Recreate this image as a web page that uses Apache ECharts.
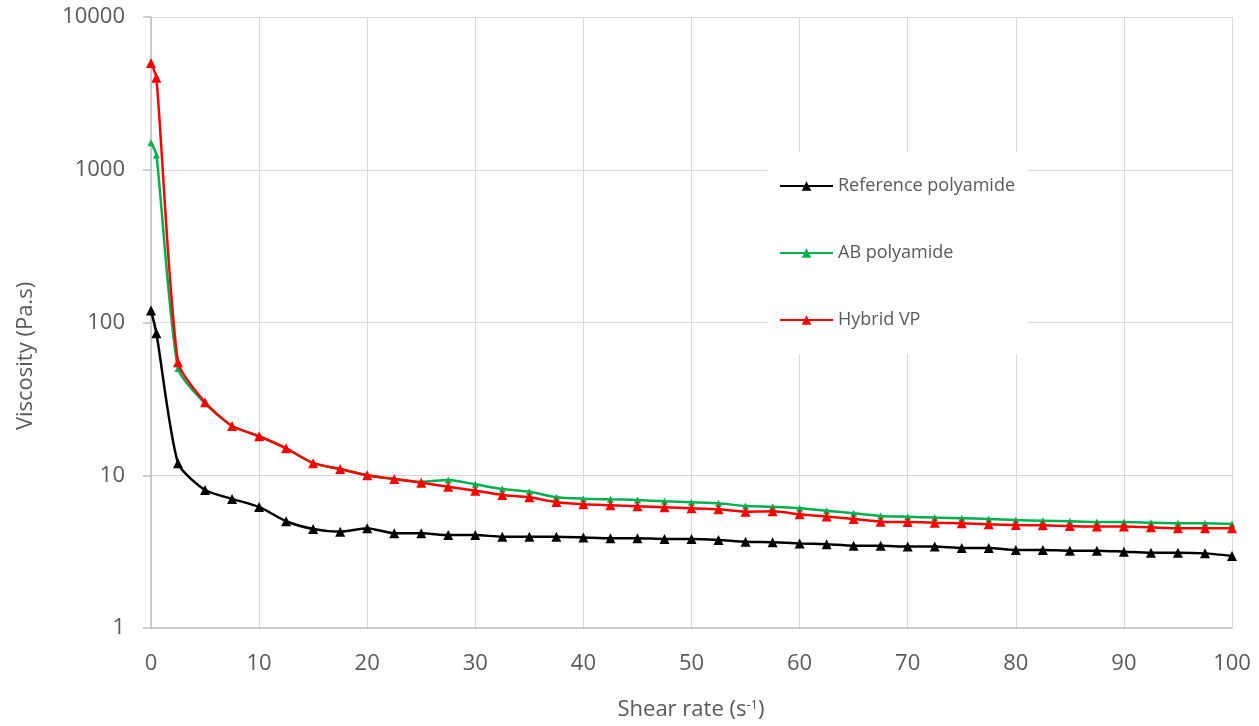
<!DOCTYPE html>
<html>
<head>
<meta charset="utf-8">
<script src="https://cdn.jsdelivr.net/npm/echarts@6/dist/echarts.min.js"></script>
<style>
html,body{margin:0;padding:0;background:#fff;}
#chart{width:1259px;height:726px;}
</style>
</head>
<body>
<div id="chart"></div>
<script>
// Shear rate (s^-1)
const shearRate = [0, 0.5, 2.5, 5, 7.5, 10, 12.5, 15, 17.5, 20, 22.5, 25, 27.5, 30, 32.5, 35, 37.5, 40, 42.5, 45, 47.5, 50, 52.5, 55, 57.5, 60, 62.5, 65, 67.5, 70, 72.5, 75, 77.5, 80, 82.5, 85, 87.5, 90, 92.5, 95, 97.5, 100];
// Viscosity (Pa.s)
const referencePolyamide = [120, 85, 12, 8.0, 7.0, 6.2, 5.0, 4.45, 4.27, 4.5, 4.17, 4.17, 4.06, 4.06, 3.96, 3.96, 3.96, 3.92, 3.87, 3.87, 3.83, 3.83, 3.77, 3.67, 3.64, 3.58, 3.53, 3.46, 3.46, 3.41, 3.41, 3.34, 3.34, 3.24, 3.24, 3.21, 3.21, 3.16, 3.11, 3.11, 3.08, 2.96];
const abPolyamide = [1500, 1250, 50, 29.5, 21, 18, 15, 12, 11, 10, 9.45, 9.07, 9.31, 8.72, 8.13, 7.8, 7.17, 7.02, 6.96, 6.89, 6.75, 6.65, 6.55, 6.29, 6.22, 6.08, 5.86, 5.63, 5.41, 5.35, 5.28, 5.23, 5.17, 5.09, 5.04, 4.99, 4.94, 4.94, 4.89, 4.85, 4.85, 4.8];
const hybridVP = [5000, 4000, 55, 30, 21, 18, 15, 12, 11, 10, 9.45, 8.94, 8.42, 7.92, 7.43, 7.17, 6.68, 6.45, 6.36, 6.26, 6.17, 6.08, 5.98, 5.77, 5.81, 5.55, 5.36, 5.17, 4.97, 4.94, 4.89, 4.85, 4.77, 4.72, 4.70, 4.65, 4.61, 4.61, 4.56, 4.49, 4.49, 4.49];
const seriesNames = ['Reference polyamide', 'AB polyamide', 'Hybrid VP'];
const xTicks = [0, 10, 20, 30, 40, 50, 60, 70, 80, 90, 100];
const yTicks = [1, 10, 100, 1000, 10000];

const FONT = '"Open Sans", "Liberation Sans", sans-serif';
const TXT = '#595959';

function pairs(ys) { return shearRate.map((x, i) => [x, ys[i]]); }

const chart = echarts.init(document.getElementById('chart'), null, {renderer: 'canvas'});
const colors = ['#000000', '#00B050', '#FF0000'];
const values = [referencePolyamide, abPolyamide, hybridVP];
const sizes = [10, 7, 10];

chart.setOption({
  animation: false,
  backgroundColor: '#ffffff',
  grid: {left: 151, right: 27, top: 17, bottom: 98, containLabel: false},
  xAxis: {
    type: 'value',
    min: xTicks[0], max: xTicks[xTicks.length - 1], interval: xTicks[1] - xTicks[0],
    axisLine: {show: true, onZero: false, lineStyle: {color: '#bfbfbf', width: 1.5}},
    axisTick: {show: false},
    splitLine: {show: true, lineStyle: {color: '#d9d9d9', width: 1}},
    axisLabel: {color: TXT, fontSize: 22, fontFamily: FONT, margin: 25}
  },
  yAxis: {
    type: 'log', logBase: 10,
    min: yTicks[0], max: yTicks[yTicks.length - 1],
    axisLine: {show: true, lineStyle: {color: '#bfbfbf', width: 1.5}},
    axisTick: {show: true, length: 8, lineStyle: {color: '#bfbfbf', width: 1.5}},
    splitLine: {show: true, lineStyle: {color: '#d9d9d9', width: 1}},
    minorTick: {show: false},
    axisLabel: {color: TXT, fontSize: 22, fontFamily: FONT, margin: 26, formatter: v => String(v)}
  },
  legend: {
    orient: 'vertical',
    left: 767, top: 152,
    backgroundColor: '#ffffff',
    padding: [24, 13, 24, 12],
    itemWidth: 53, itemHeight: 12, itemGap: 47,
    textStyle: {color: TXT, fontSize: 18, fontFamily: FONT, lineHeight: 20},
    data: seriesNames
  },
  graphic: [
    {
      type: 'text', x: 26, y: 356, rotation: Math.PI / 2,
      style: {text: 'Viscosity (Pa.s)', fill: TXT, font: '22px ' + FONT, textAlign: 'center', textVerticalAlign: 'middle'}
    },
    {
      type: 'text', x: 691, y: 710,
      style: {
        text: '{a|Shear rate (s}{s|-1}{a|)}',
        textAlign: 'center', textVerticalAlign: 'middle',
        rich: {
          a: {fill: TXT, fontSize: 22, fontFamily: FONT},
          s: {fill: TXT, fontSize: 13, fontFamily: FONT, verticalAlign: 'top', padding: [0, 0, 10, 0]}
        }
      }
    }
  ],
  series: seriesNames.map((name, i) => ({
    name: name,
    type: 'line',
    data: pairs(values[i]),
    smooth: 0.22,
    symbol: 'triangle',
    symbolSize: sizes[i],
    showAllSymbol: true,
    lineStyle: {color: colors[i], width: 2.5},
    itemStyle: {color: colors[i]},
    z: 2 + i
  }))
});
</script>
</body>
</html>
